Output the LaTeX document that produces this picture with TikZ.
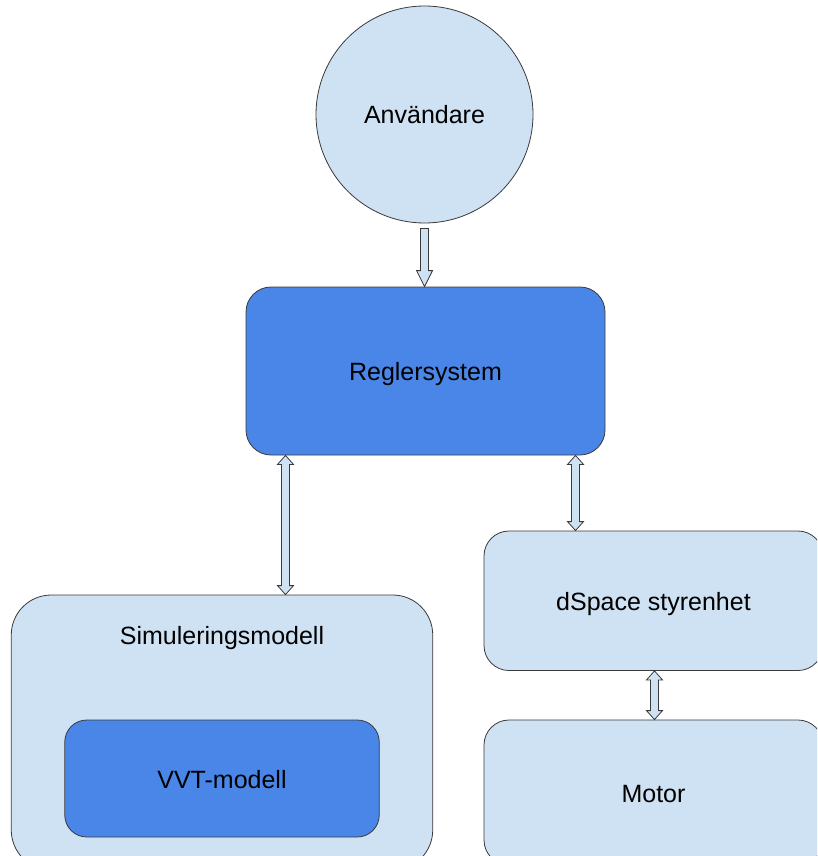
\documentclass[tikz,border=0pt]{standalone}
\usepackage{fontspec}
\setmainfont{Liberation Sans}
\usetikzlibrary{calc}
\definecolor{paleblue}{HTML}{CFE2F3}
\definecolor{gblue}{HTML}{4A86E8}
\definecolor{edgegray}{HTML}{3A3A3A}

\begin{document}
\begin{tikzpicture}[x=1pt,y=-1pt,
  every node/.style={font=\fontsize{25}{29}\selectfont,text=black,text height=19pt,text depth=0pt},
  softbox/.style={draw=edgegray,line width=0.8pt,fill=paleblue,rounded corners=25pt},
  bluebox/.style={softbox,fill=gblue},
  % block arrows, drawn top to bottom
  downarrow/.style={draw=edgegray,line width=0.8pt,fill=paleblue,
    to path={let \p1=(\tikztostart),\p2=(\tikztotarget) in
      (\x1-4pt,\y1) -- (\x1+4pt,\y1) -- (\x1+4pt,\y2+16pt) -- (\x1+8pt,\y2+16pt)
      -- (\x1,\y2) -- (\x1-8pt,\y2+16pt) -- (\x1-4pt,\y2+16pt) -- cycle}},
  dblarrow/.style={draw=edgegray,line width=0.8pt,fill=paleblue,
    to path={let \p1=(\tikztostart),\p2=(\tikztotarget) in
      (\x1,\y1) -- (\x1+8pt,\y1-9pt) -- (\x1+4pt,\y1-9pt) -- (\x1+4pt,\y2+9pt)
      -- (\x1+8pt,\y2+9pt) -- (\x1,\y2) -- (\x1-8pt,\y2+9pt) -- (\x1-4pt,\y2+9pt)
      -- (\x1-4pt,\y1-9pt) -- (\x1-8pt,\y1-9pt) -- cycle}}]
  \useasboundingbox (0,0) rectangle (817,856);
  \clip (0,0) rectangle (817,856);
  % blocks
  \node[softbox,circle,minimum size=217pt] (user) at (424.5,114.5) {Användare};
  \node[bluebox,minimum width=359pt,minimum height=168pt] (regler) at (425.5,371) {Reglersystem};
  \node[softbox,rounded corners=40pt,minimum width=421.5pt,minimum height=275pt,
    label={[anchor=center,yshift=-40.5pt]north:Simuleringsmodell}] (sim) at (222,732.5) {};
  \node[bluebox,rounded corners=22pt,minimum width=314.5pt,minimum height=117pt] (vvt) at (222,778.5) {VVT-modell};
  \node[softbox,minimum width=339pt,minimum height=139.5pt] (dspace) at (653.5,600.75) {dSpace styrenhet};
  \node[softbox,minimum width=339pt,minimum height=145pt] (motor) at (653.5,792.5) {Motor};
  % arrows
  \coordinate (la) at (285.5,0);
  \coordinate (ra) at (575.5,0);
  \coordinate (ma) at (654.5,0);
  \draw[downarrow] ([yshift=-5pt]user.south) to (regler.north);
  \draw[dblarrow] (regler.south -| la) to (sim.north -| la);
  \draw[dblarrow] (regler.south -| ra) to (dspace.north -| ra);
  \draw[dblarrow] (dspace.south -| ma) to (motor.north -| ma);
\end{tikzpicture}
\end{document}
